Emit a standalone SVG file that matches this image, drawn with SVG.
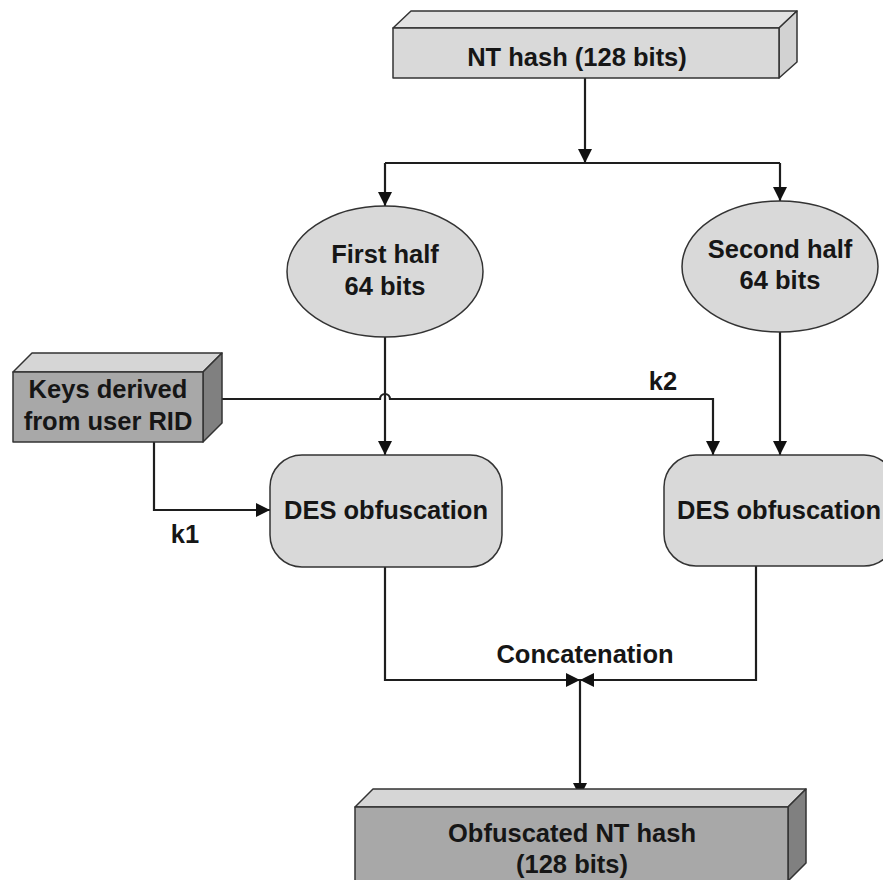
<svg xmlns="http://www.w3.org/2000/svg" width="883" height="880" viewBox="0 0 883 880">
  <defs>
    <marker id="arrow" viewBox="0 0 14 14" refX="14" refY="7" markerWidth="14" markerHeight="14" markerUnits="userSpaceOnUse" orient="auto">
      <path d="M0,0 L14,7 L0,14 Z" fill="#111"/>
    </marker>
  </defs>
  <style>
    text { font-family: "Liberation Sans", Arial, sans-serif; font-weight: bold; font-size: 25.5px; fill: #161616; text-anchor: middle; }
    .box { stroke: #333; stroke-width: 1.5; stroke-linejoin: round; }
    .light { fill: #d9d9d9; }
    .lighttop { fill: #e2e2e2; }
    .lightside { fill: #d2d2d2; }
    .dark { fill: #a8a8a8; }
    .darktop { fill: #d6d6d6; }
    .darkside { fill: #808080; }
    .wire { fill: none; stroke: #1e1e1e; stroke-width: 2.2; }
    .arr { marker-end: url(#arrow); }
  </style>
  <rect width="883" height="880" fill="#fff"/>

  <!-- connectors -->
  <g id="connectors">
    <path class="wire arr" d="M585,78 V163"/>
    <path class="wire" d="M385,163 H780"/>
    <path class="wire arr" d="M385,163 V206"/>
    <path class="wire arr" d="M780,163 V201"/>
    <path class="wire arr" d="M385,337 V455"/>
    <path class="wire arr" d="M780,332 V455"/>
    <!-- key k2 with hop over the first-half line -->
    <path class="wire arr" d="M222,399 H380 A5,5 0 0 1 390,399 H713 V455"/>
    <!-- key k1 -->
    <path class="wire arr" d="M154,442 V510 H270"/>
    <!-- concatenation -->
    <path class="wire arr" d="M385,567 V680 H580"/>
    <path class="wire arr" d="M756,566 V680 H580"/>
    <path class="wire arr" d="M580,680 V797"/>
  </g>

  <!-- NT hash -->
  <g id="nt-hash">
    <polygon class="box lighttop" points="393,28 411,11 797,11 779,28"/>
    <polygon class="box lightside" points="779,28 797,11 797,62 779,78"/>
    <rect class="box light" x="393" y="28" width="386" height="50"/>
    <text x="577" y="66">NT hash (128 bits)</text>
  </g>

  <!-- first half -->
  <g id="first-half">
    <ellipse class="box light" cx="385" cy="271.5" rx="98" ry="65.5"/>
    <text x="385" y="263">First half</text>
    <text x="385" y="295">64 bits</text>
  </g>

  <!-- second half -->
  <g id="second-half">
    <ellipse class="box light" cx="780" cy="266.5" rx="98" ry="65.5"/>
    <text x="780" y="258">Second half</text>
    <text x="780" y="289">64 bits</text>
  </g>

  <!-- keys -->
  <g id="keys">
    <polygon class="box darktop" points="13,372 32,353 222,353 203,372"/>
    <polygon class="box darkside" points="203,372 222,353 222,423 203,442"/>
    <rect class="box dark" x="13" y="372" width="190" height="70"/>
    <text x="108" y="398">Keys derived</text>
    <text x="108" y="430">from user RID</text>
  </g>

  <!-- DES 1 -->
  <g id="des1">
    <rect class="box light" x="270" y="455" width="232" height="112" rx="32"/>
    <text x="386" y="519">DES obfuscation</text>
  </g>

  <!-- DES 2 -->
  <g id="des2">
    <rect class="box light" x="664" y="455" width="232" height="111" rx="32"/>
    <text x="779" y="519">DES obfuscation</text>
  </g>

  <!-- labels -->
  <g id="labels">
    <text x="185" y="543">k1</text>
    <text x="663" y="390">k2</text>
    <text x="585" y="663">Concatenation</text>
  </g>

  <!-- obfuscated NT hash -->
  <g id="obfuscated">
    <polygon class="box darktop" points="355,807 373,789 806,789 788,807"/>
    <polygon class="box darkside" points="788,807 806,789 806,863 788,881"/>
    <rect class="box dark" x="355" y="807" width="433" height="76"/>
    <text x="572" y="842">Obfuscated NT hash</text>
    <text x="572" y="873">(128 bits)</text>
  </g>
</svg>
